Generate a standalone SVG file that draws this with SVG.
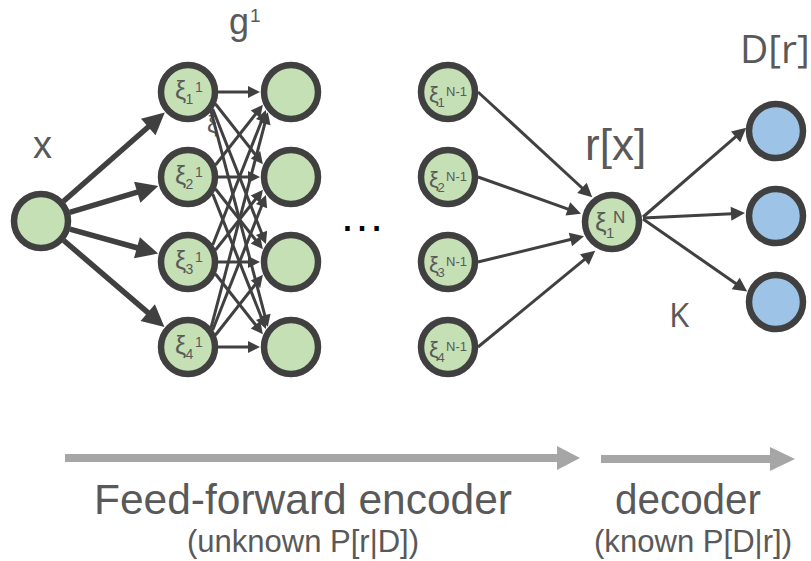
<svg xmlns="http://www.w3.org/2000/svg" width="811" height="561" viewBox="0 0 811 561">
<defs>
<style>
.n{fill:#c5e0b4;stroke:#404040;stroke-width:6.5}
.nb{fill:#9dc3e6;stroke:#404040;stroke-width:6.5}
.t{font-family:"Liberation Sans",Arial,sans-serif;fill:#595959}
.o{font-family:"Open Sans","Liberation Sans",sans-serif;fill:#595959}
.thick{stroke:#404040;stroke-width:5.5;fill:none;marker-end:url(#ah1)}
.thin{stroke:#404040;stroke-width:3;fill:none;marker-end:url(#ah2)}
.mid{stroke:#404040;stroke-width:3;fill:none;marker-end:url(#ah3)}
.band{stroke:#a6a6a6;stroke-width:8}
</style>
<marker id="ah1" markerUnits="userSpaceOnUse" orient="auto" refX="1" refY="0" markerWidth="30" markerHeight="30" overflow="visible"><path d="M0,-11 L22,0 L0,11 z" fill="#404040"/></marker>
<marker id="ah2" markerUnits="userSpaceOnUse" orient="auto" refX="1" refY="0" markerWidth="20" markerHeight="20" overflow="visible"><path d="M0,-6 L12,0 L0,6 z" fill="#404040"/></marker>
<marker id="ah3" markerUnits="userSpaceOnUse" orient="auto" refX="1" refY="0" markerWidth="20" markerHeight="20" overflow="visible"><path d="M0,-7 L14,0 L0,7 z" fill="#404040"/></marker>
</defs>
<rect width="811" height="561" fill="#ffffff"/>

<text class="t" font-size="23" x="207" y="133">ξ</text>

<g id="connectors">
<line class="thick" x1="63.5" y1="201.2" x2="149.0" y2="126.3"/>
<line class="thick" x1="69.7" y1="212.4" x2="138.2" y2="191.9"/>
<line class="thick" x1="69.9" y1="229.1" x2="137.9" y2="248.0"/>
<line class="thick" x1="63.8" y1="240.5" x2="148.5" y2="313.2"/>

<line class="thin" x1="218" y1="92" x2="249" y2="92"/>
<line class="thin" x1="215.5" y1="104" x2="256.1" y2="155.5"/>
<line class="thin" x1="212.7" y1="109" x2="261.9" y2="233.8"/>
<line class="thin" x1="211" y1="111.2" x2="265" y2="316.2"/>
<line class="thin" x1="215.5" y1="165" x2="256.1" y2="113.5"/>
<line class="thin" x1="218" y1="177" x2="249" y2="177"/>
<line class="thin" x1="215.5" y1="189" x2="256.1" y2="240.5"/>
<line class="thin" x1="212.7" y1="194" x2="261.9" y2="318.8"/>
<line class="thin" x1="212.7" y1="245" x2="261.9" y2="120.2"/>
<line class="thin" x1="215.5" y1="250" x2="256.1" y2="198.5"/>
<line class="thin" x1="218" y1="262" x2="249" y2="262"/>
<line class="thin" x1="215.5" y1="274" x2="256.1" y2="325.5"/>
<line class="thin" x1="211" y1="327.8" x2="265" y2="122.8"/>
<line class="thin" x1="212.7" y1="330" x2="261.9" y2="205.2"/>
<line class="thin" x1="215.5" y1="335" x2="256.1" y2="283.5"/>
<line class="thin" x1="218" y1="347" x2="249" y2="347"/>

<line class="mid" x1="478" y1="92" x2="582.7" y2="188.5"/>
<line class="mid" x1="478" y1="177" x2="568.8" y2="209.3"/>
<line class="mid" x1="478" y1="262" x2="571.4" y2="239.3"/>
<line class="mid" x1="478" y1="347" x2="585.2" y2="258.9"/>

<line class="mid" x1="643" y1="217" x2="736.4" y2="136.2"/>
<line class="mid" x1="643" y1="218" x2="732.0" y2="213.7"/>
<line class="mid" x1="643" y1="219" x2="736.5" y2="284.0"/>
</g>

<g id="input"><circle class="n" cx="41" cy="221" r="27"/></g>

<g id="l1n1"><circle class="n" cx="188" cy="92" r="27"/>
<text class="t" font-size="25" x="175" y="99">ξ</text><text class="t" font-size="14" x="185.5" y="104">1</text><text class="t" font-size="14" x="195" y="92">1</text></g>
<g id="l1n2"><circle class="n" cx="188" cy="177" r="27"/>
<text class="t" font-size="25" x="175" y="184">ξ</text><text class="t" font-size="14" x="185.5" y="189">2</text><text class="t" font-size="14" x="195" y="177">1</text></g>
<g id="l1n3"><circle class="n" cx="188" cy="262" r="27"/>
<text class="t" font-size="25" x="175" y="269">ξ</text><text class="t" font-size="14" x="185.5" y="274">3</text><text class="t" font-size="14" x="195" y="262">1</text></g>
<g id="l1n4"><circle class="n" cx="188" cy="347" r="27"/>
<text class="t" font-size="25" x="175" y="354">ξ</text><text class="t" font-size="14" x="185.5" y="359">4</text><text class="t" font-size="14" x="195" y="347">1</text></g>

<g id="l2n1"><circle class="n" cx="291" cy="92" r="27"/></g>
<g id="l2n2"><circle class="n" cx="291" cy="177" r="27"/></g>
<g id="l2n3"><circle class="n" cx="291" cy="262" r="27"/></g>
<g id="l2n4"><circle class="n" cx="291" cy="347" r="27"/></g>

<g id="lm1"><circle class="n" cx="448" cy="92" r="27"/>
<text class="t" font-size="22" x="429" y="102">ξ</text><text class="t" font-size="13" x="437.5" y="107">1</text><text class="t" font-size="13" x="446" y="96">N-1</text></g>
<g id="lm2"><circle class="n" cx="448" cy="177" r="27"/>
<text class="t" font-size="22" x="429" y="187">ξ</text><text class="t" font-size="13" x="437.5" y="192">2</text><text class="t" font-size="13" x="446" y="181">N-1</text></g>
<g id="lm3"><circle class="n" cx="448" cy="262" r="27"/>
<text class="t" font-size="22" x="429" y="272">ξ</text><text class="t" font-size="13" x="437.5" y="277">3</text><text class="t" font-size="13" x="446" y="266">N-1</text></g>
<g id="lm4"><circle class="n" cx="448" cy="347" r="27"/>
<text class="t" font-size="22" x="429" y="357">ξ</text><text class="t" font-size="13" x="437.5" y="362">4</text><text class="t" font-size="13" x="446" y="351">N-1</text></g>

<g id="nodeN"><circle class="n" cx="612" cy="222" r="27"/>
<text class="t" font-size="26" x="595" y="231">ξ</text><text class="t" font-size="15" x="606" y="238">1</text><text class="t" font-size="17" x="613" y="223">N</text></g>

<g id="d1"><circle class="nb" cx="776" cy="131" r="27"/></g>
<g id="d2"><circle class="nb" cx="776" cy="216" r="27"/></g>
<g id="d3"><circle class="nb" cx="776" cy="302" r="27"/></g>

<g id="labels">
<text class="t" font-size="38" x="42.5" y="158" text-anchor="middle">x</text>
<text class="t" font-size="36" x="229" y="34">g</text><text class="t" font-size="19" x="250" y="22">1</text>
<text class="t" font-size="44" x="585" y="160">r[x]</text>
<text class="o" font-size="39" x="740" y="63">D[r]</text>
<text class="o" font-size="33" x="669" y="327">K</text>
<text font-family="Liberation Sans,Arial,sans-serif" font-size="46" fill="#000000" x="362" y="231" text-anchor="middle">…</text>
</g>

<g id="bottom">
<line class="band" x1="65" y1="458" x2="559" y2="458"/>
<polygon points="557,446 580,458 557,470" fill="#a6a6a6"/>
<line class="band" x1="601" y1="459" x2="772" y2="459"/>
<polygon points="770,447 795,459 770,471" fill="#a6a6a6"/>
<text class="t" font-size="42" x="94" y="514" textLength="418" lengthAdjust="spacingAndGlyphs">Feed-forward encoder</text>
<text class="t" font-size="31" x="187" y="552" textLength="232" lengthAdjust="spacingAndGlyphs">(unknown P[r|D])</text>
<text class="t" font-size="42" x="615" y="514" textLength="146" lengthAdjust="spacingAndGlyphs">decoder</text>
<text class="t" font-size="31" x="594" y="552" textLength="198" lengthAdjust="spacingAndGlyphs">(known P[D|r])</text>
</g>
</svg>
